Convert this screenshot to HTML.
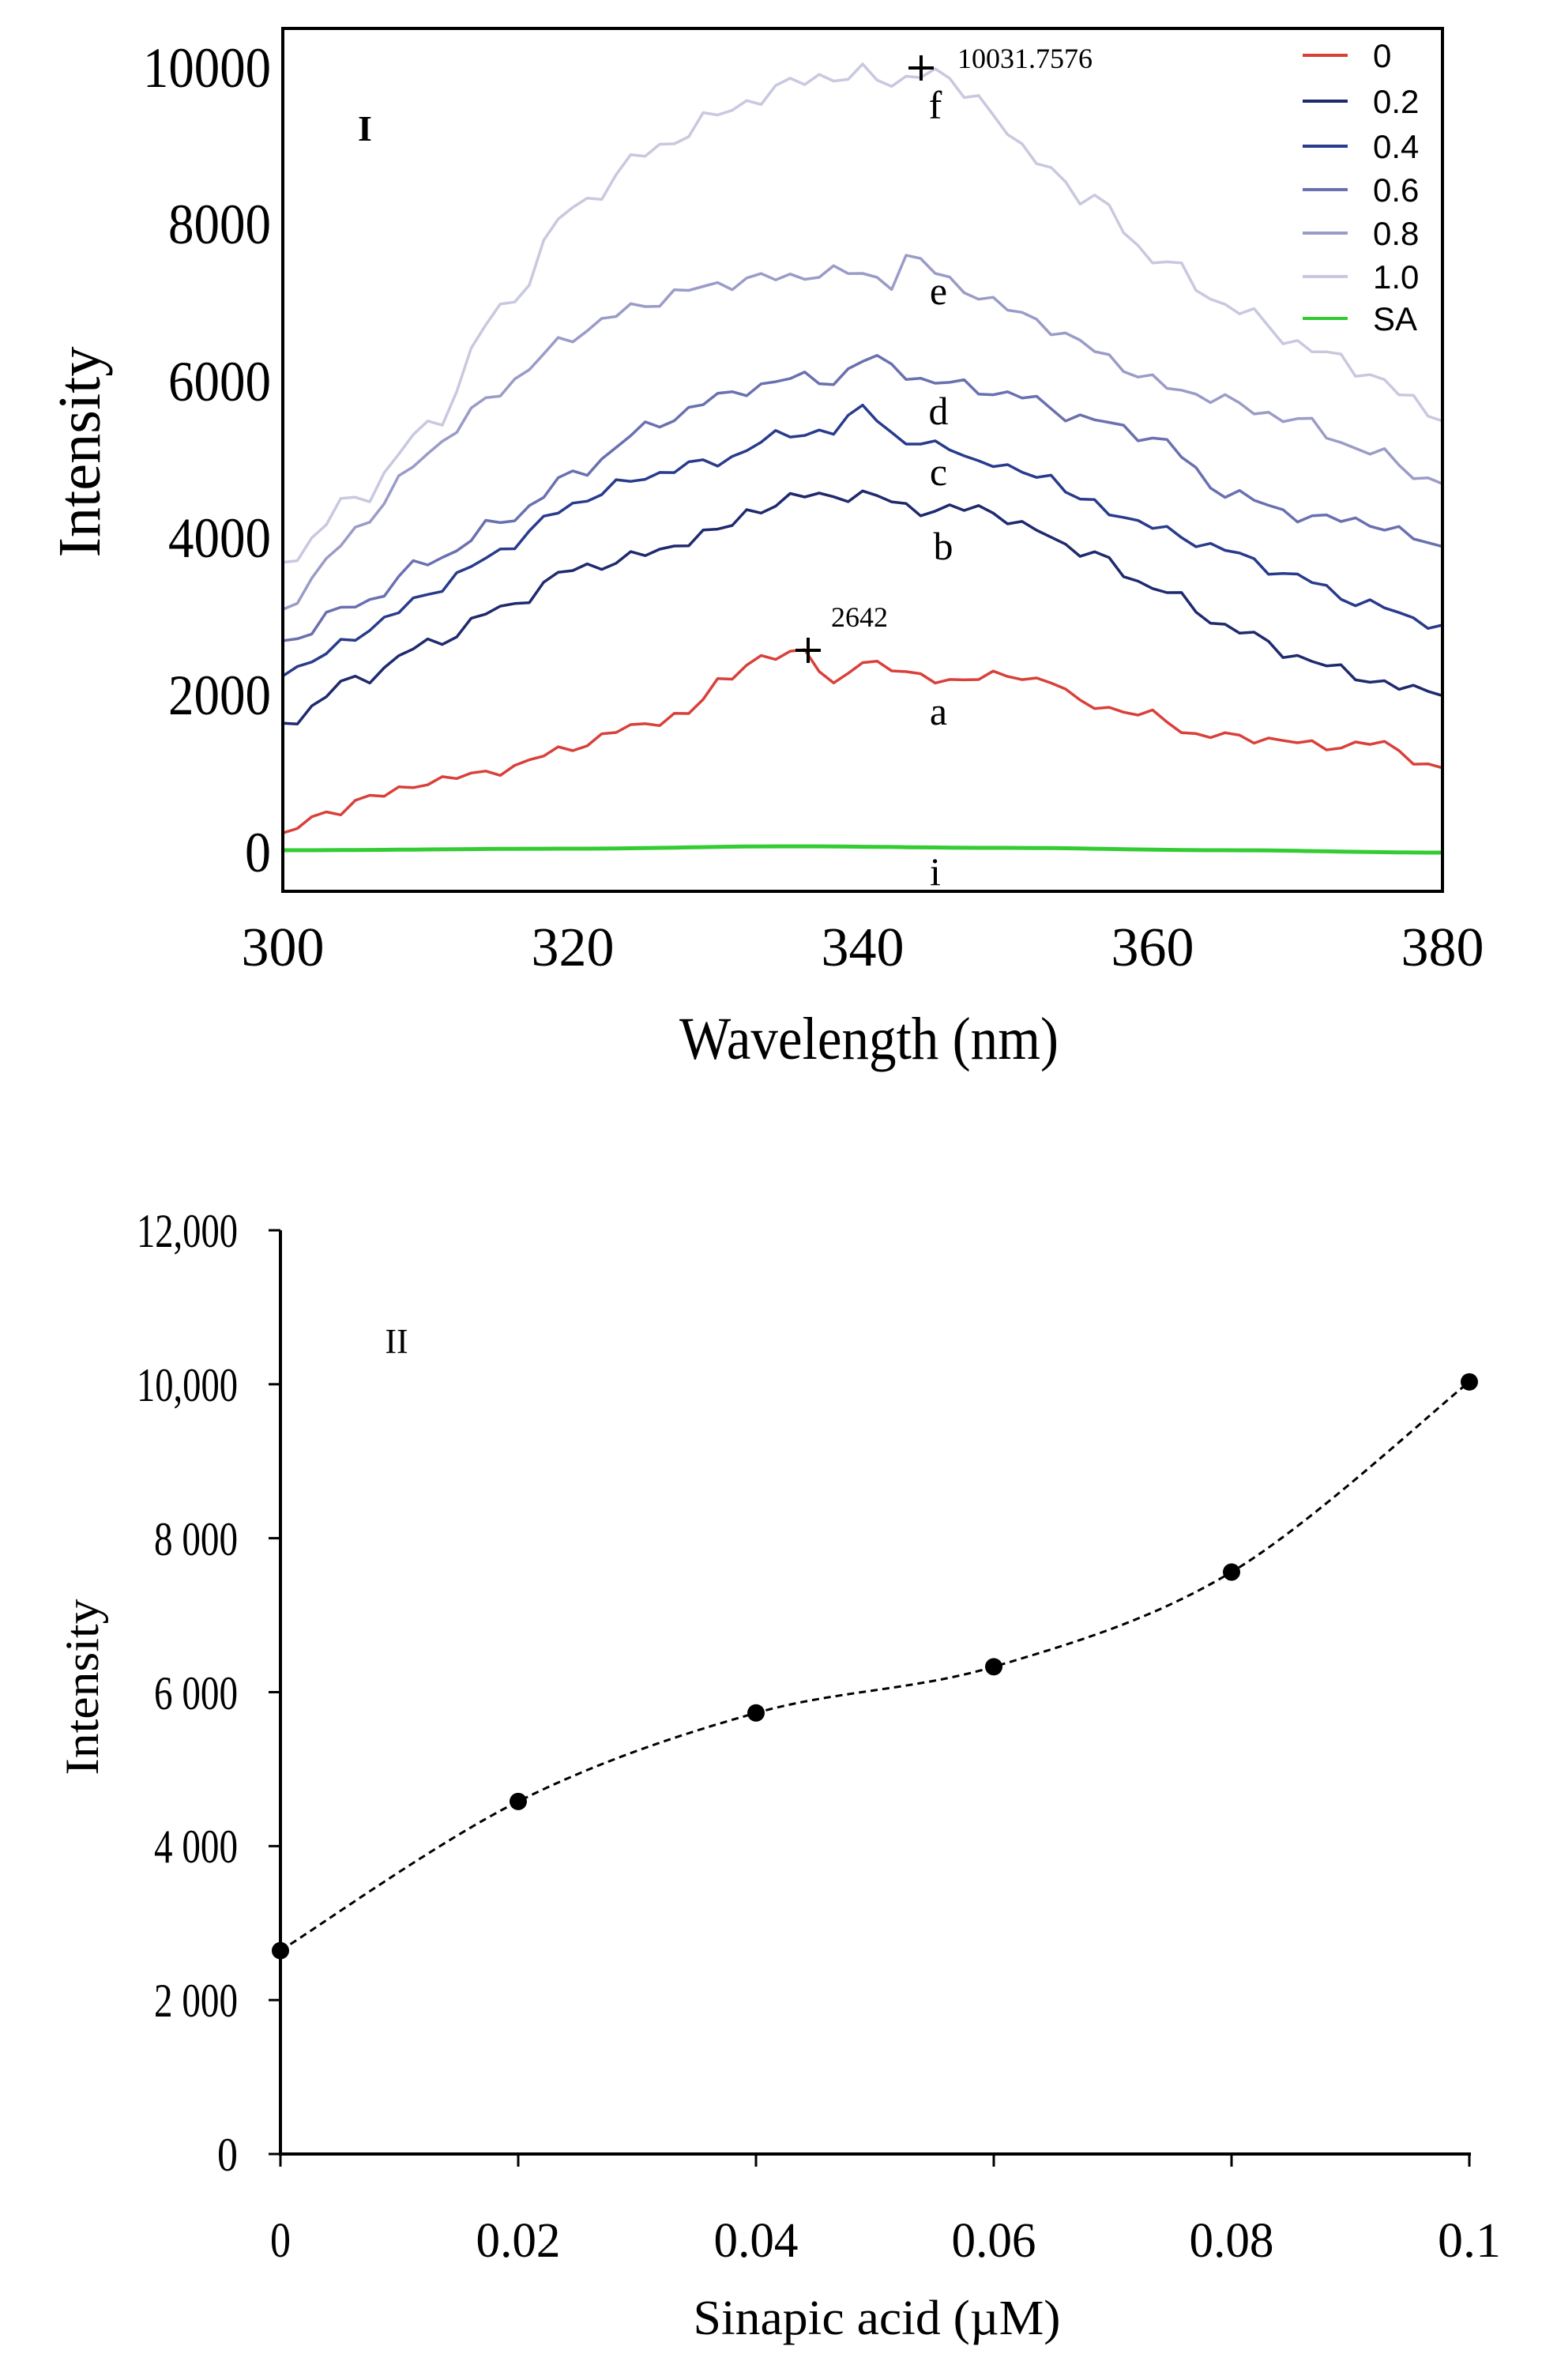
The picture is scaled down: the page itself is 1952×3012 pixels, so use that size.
<!DOCTYPE html>
<html><head><meta charset="utf-8"><style>
html,body{margin:0;padding:0;background:#fff;}
svg{display:block;}
</style></head><body>
<svg id="s" width="1952" height="3012" viewBox="0 0 1952 3012" xmlns="http://www.w3.org/2000/svg">
<rect width="1952" height="3012" fill="#fff"/>
<g id="top"></g>
<rect x="358" y="36" width="1468" height="1092" fill="none" stroke="#000" stroke-width="4"/>
<g font-family="Liberation Serif, serif" font-size="72" fill="#000" text-anchor="end">
<text x="343" y="110" textLength="162" lengthAdjust="spacingAndGlyphs">10000</text>
<text x="343" y="308" textLength="130" lengthAdjust="spacingAndGlyphs">8000</text>
<text x="343" y="507" textLength="130" lengthAdjust="spacingAndGlyphs">6000</text>
<text x="343" y="705" textLength="130" lengthAdjust="spacingAndGlyphs">4000</text>
<text x="343" y="904" textLength="130" lengthAdjust="spacingAndGlyphs">2000</text>
<text x="343" y="1103" textLength="33" lengthAdjust="spacingAndGlyphs">0</text>
</g>
<g font-family="Liberation Serif, serif" font-size="70" fill="#000" text-anchor="middle">
<text x="358" y="1222">300</text>
<text x="725" y="1222">320</text>
<text x="1092" y="1222">340</text>
<text x="1459" y="1222">360</text>
<text x="1826" y="1222">380</text>
<text x="1100" y="1340" font-size="76" textLength="480" lengthAdjust="spacingAndGlyphs">Wavelength (nm)</text>
</g>
<text transform="translate(126,572) rotate(-90)" font-family="Liberation Serif, serif" font-size="76" text-anchor="middle" textLength="267" lengthAdjust="spacingAndGlyphs">Intensity</text>
<g font-family="Liberation Serif, serif" font-size="50" fill="#000" text-anchor="middle">
<text x="462" y="178" font-weight="bold" font-size="46">I</text>
<text x="1184" y="150">f</text>
<text x="1188" y="385">e</text>
<text x="1188" y="537">d</text>
<text x="1188" y="614">c</text>
<text x="1194" y="708">b</text>
<text x="1188" y="917">a</text>
<text x="1184" y="1120">i</text>
</g>
<g stroke="#000" stroke-width="4">
<line x1="1150" y1="86" x2="1182" y2="86"/><line x1="1166" y1="70" x2="1166" y2="102"/>
<line x1="1007" y1="823" x2="1039" y2="823"/><line x1="1023" y1="807" x2="1023" y2="839"/>
</g>
<g font-family="Liberation Serif, serif" font-size="36" fill="#000">
<text x="1212" y="86">10031.7576</text>
<text x="1052" y="793">2642</text>
</g>
<g id="leg" font-family="Liberation Sans, sans-serif" font-size="42" fill="#000"></g>

<g stroke="#000" stroke-width="4" fill="none">
<line x1="355" y1="1557" x2="355" y2="2728"/>
<line x1="353" y1="2726" x2="1862" y2="2726"/>
</g>
<g id="bt" stroke="#000" stroke-width="3"></g>
<g font-family="Liberation Serif, serif" font-size="60" fill="#000" text-anchor="end">
<text x="301" y="1578" textLength="128" lengthAdjust="spacingAndGlyphs">12,000</text>
<text x="301" y="1773" textLength="128" lengthAdjust="spacingAndGlyphs">10,000</text>
<text x="301" y="1968" textLength="106" lengthAdjust="spacingAndGlyphs">8 000</text>
<text x="301" y="2163" textLength="106" lengthAdjust="spacingAndGlyphs">6 000</text>
<text x="301" y="2357" textLength="106" lengthAdjust="spacingAndGlyphs">4 000</text>
<text x="301" y="2552" textLength="106" lengthAdjust="spacingAndGlyphs">2 000</text>
<text x="301" y="2747" textLength="26" lengthAdjust="spacingAndGlyphs">0</text>
</g>
<g font-family="Liberation Serif, serif" font-size="62" fill="#000" text-anchor="middle">
<text x="355" y="2856" textLength="26" lengthAdjust="spacingAndGlyphs">0</text>
<text x="656" y="2856" textLength="107" lengthAdjust="spacingAndGlyphs">0.02</text>
<text x="957" y="2856" textLength="107" lengthAdjust="spacingAndGlyphs">0.04</text>
<text x="1258" y="2856" textLength="107" lengthAdjust="spacingAndGlyphs">0.06</text>
<text x="1559" y="2856" textLength="107" lengthAdjust="spacingAndGlyphs">0.08</text>
<text x="1860" y="2856" textLength="80" lengthAdjust="spacingAndGlyphs">0.1</text>
<text x="1110" y="2954" textLength="465" lengthAdjust="spacingAndGlyphs">Sinapic acid (µM)</text>
<text x="502" y="1712" font-size="44">II</text>
</g>
<text transform="translate(124,2135) rotate(-90)" font-family="Liberation Serif, serif" font-size="60" text-anchor="middle" textLength="223" lengthAdjust="spacingAndGlyphs">Intensity</text>
<g id="bc"></g>
</svg>
<script>
var NS="http://www.w3.org/2000/svg";
function X(w){return 358+(w-300)*1468/80;}
function Y(v){return 1079-v*993/10000;}
function interp(pts,x){
 for(var i=0;i<pts.length-1;i++){
  var a=pts[i],b=pts[i+1];
  if(x>=a[0]&&x<=b[0]){var t=(x-a[0])/(b[0]-a[0]);t=(1-Math.cos(Math.PI*t))/2;return a[1]+(b[1]-a[1])*t;}
 }
 return pts[pts.length-1][1];
}
var series=[
 {c:"#c8c8e0",amp:130,seed:6,p:[[300,3700],[305,4500],[310,5400],[315,6900],[320,8200],[325,8900],[330,9400],[335,9800],[340,9950],[342,9750],[344,10000],[348,9600],[352,8800],[356,8300],[360,7600],[365,7000],[370,6500],[375,6100],[380,5500]]},
 {c:"#9a9cc8",amp:100,seed:5,p:[[300,3100],[305,4100],[310,5100],[315,5900],[320,6600],[325,7000],[330,7250],[335,7350],[340,7400],[342,7250],[343,7550],[350,6950],[355,6500],[360,6000],[365,5750],[370,5500],[375,5100],[380,4700]]},
 {c:"#6a70b0",amp:90,seed:4,p:[[300,2700],[305,3150],[310,3700],[315,4200],[320,4800],[325,5400],[330,5800],[335,6050],[338,6000],[340,6300],[345,6000],[350,5850],[355,5550],[360,5300],[365,4600],[370,4300],[375,4200],[380,3900]]},
 {c:"#283b8c",amp:80,seed:3,p:[[300,2250],[305,2750],[310,3300],[315,3850],[320,4450],[325,4800],[330,5000],[335,5350],[338,5350],[340,5700],[343,5200],[346,5200],[348,4950],[352,4850],[355,4500],[360,4150],[365,3850],[370,3500],[375,3150],[380,2900]]},
 {c:"#1f2a6e",amp:90,seed:2,p:[[300,1650],[305,2200],[310,2650],[315,3100],[320,3600],[325,3800],[330,4100],[333,4400],[336,4550],[340,4550],[345,4350],[348,4400],[352,4100],[355,3850],[360,3400],[365,2900],[370,2500],[375,2200],[380,2000]]},
 {c:"#d9403a",amp:70,seed:1,p:[[300,250],[303,500],[306,700],[310,900],[315,1050],[320,1350],[325,1650],[328,1750],[330,2200],[333,2450],[336,2600],[337,2350],[338,2100],[340,2450],[345,2200],[350,2250],[353,2200],[355,1900],[360,1750],[363,1500],[368,1450],[372,1350],[375,1400],[380,1080]]},
 {c:"#33cc33",amp:0,seed:0,p:[[300,30],[320,50],[335,80],[350,60],[365,30],[380,0]]}
];
var g=document.getElementById("top");
series.forEach(function(s){
 var d="";
 for(var i=0;i<=80;i++){
  var w=300+i;
  var v=interp(s.p,w);
  if(s.amp&&i>0&&i<80){v+=s.amp*(Math.sin(i*2.3+s.seed*1.7)*0.6+Math.sin(i*5.1+s.seed*3.1)*0.4);}
  d+=(i?"L":"M")+X(w).toFixed(1)+","+Y(v).toFixed(1);
 }
 var p=document.createElementNS(NS,"path");
 p.setAttribute("d",d);p.setAttribute("fill","none");p.setAttribute("stroke",s.c);
 p.setAttribute("stroke-width",s.c=="#33cc33"?"5":"3.5");p.setAttribute("stroke-linejoin","round");
 g.appendChild(p);
});
var leg=[["0","#d9403a",70],["0.2","#1f2a6e",128],["0.4","#283b8c",185],["0.6","#6a70b0",240],["0.8","#9a9cc8",295],["1.0","#c8c8e0",350],["SA","#33cc33",403]];
var lg=document.getElementById("leg");
leg.forEach(function(l){
 var ln=document.createElementNS(NS,"line");
 ln.setAttribute("x1",1649);ln.setAttribute("x2",1706);ln.setAttribute("y1",l[2]);ln.setAttribute("y2",l[2]);
 ln.setAttribute("stroke",l[1]);ln.setAttribute("stroke-width","4");lg.appendChild(ln);
 var t=document.createElementNS(NS,"text");t.setAttribute("x",1738);t.setAttribute("y",l[2]+15);t.textContent=l[0];lg.appendChild(t);
});
function BX(c){return 355+c*15050;}
function BY(v){return 2726-v*1169/12000;}
var bt=document.getElementById("bt");
for(var k=0;k<=6;k++){var y=BY(k*2000);var l=document.createElementNS(NS,"line");l.setAttribute("x1",340);l.setAttribute("x2",355);l.setAttribute("y1",y);l.setAttribute("y2",y);bt.appendChild(l);}
for(var k=0;k<=5;k++){var x=BX(k*0.02);var l=document.createElementNS(NS,"line");l.setAttribute("x1",x);l.setAttribute("x2",x);l.setAttribute("y1",2726);l.setAttribute("y2",2742);bt.appendChild(l);}
var pts=[[0,2642],[0.02,4580],[0.04,5730],[0.06,6330],[0.08,7560],[0.1,10031]].map(function(p){return [BX(p[0]),BY(p[1])];});
var d="M"+pts[0][0]+","+pts[0][1];
for(var i=0;i<pts.length-1;i++){
 var p0=pts[Math.max(0,i-1)],p1=pts[i],p2=pts[i+1],p3=pts[Math.min(pts.length-1,i+2)];
 var c1=[p1[0]+(p2[0]-p0[0])/6,p1[1]+(p2[1]-p0[1])/6],c2=[p2[0]-(p3[0]-p1[0])/6,p2[1]-(p3[1]-p1[1])/6];
 d+="C"+c1[0]+","+c1[1]+" "+c2[0]+","+c2[1]+" "+p2[0]+","+p2[1];
}
var bc=document.getElementById("bc");
var cp=document.createElementNS(NS,"path");cp.setAttribute("d",d);cp.setAttribute("fill","none");cp.setAttribute("stroke","#000");cp.setAttribute("stroke-width","3");cp.setAttribute("stroke-dasharray","9,6");bc.appendChild(cp);
pts.forEach(function(p){var c=document.createElementNS(NS,"circle");c.setAttribute("cx",p[0]);c.setAttribute("cy",p[1]);c.setAttribute("r",11);c.setAttribute("fill","#000");bc.appendChild(c);});
</script>
</body></html>
